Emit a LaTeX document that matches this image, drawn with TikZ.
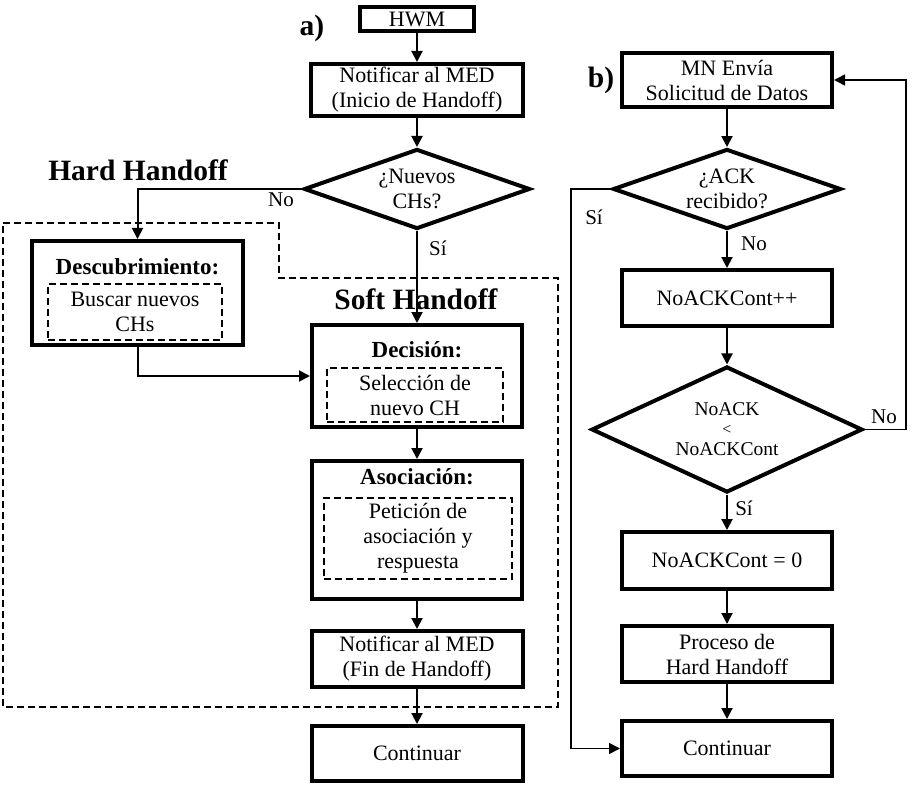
\documentclass[tikz,border=0pt]{standalone}
\usepackage{fontspec}
\setmainfont{Liberation Serif}
\usetikzlibrary{shapes.geometric,arrows.meta}
\begin{document}
\begin{tikzpicture}[x=1pt,y=-1pt,
  box/.style={draw,line width=4pt,inner sep=0pt,align=center,line join=miter,
    font=\fontsize{22}{25}\selectfont},
  dbox/.style={draw,line width=2pt,dash pattern=on 7pt off 4pt,inner sep=0pt,align=center,
    font=\fontsize{22}{25}\selectfont},
  dia/.style={draw,diamond,line width=4pt,inner sep=0pt,line join=miter,miter limit=20},
  txt/.style={inner sep=0pt,align=center,font=\fontsize{22}{25}\selectfont},
  smalltxt/.style={inner sep=0pt,align=center,font=\fontsize{19.5}{22}\selectfont},
  lbl/.style={inner sep=0pt,font=\fontsize{21}{24}\selectfont},
  ttl/.style={inner sep=0pt,font=\fontsize{23}{26}\selectfont\bfseries},
  bigttl/.style={inner sep=0pt,font=\fontsize{29.5}{33}\selectfont\bfseries},
  arr/.style={line width=2pt,-{Triangle[length=11pt,width=11pt]}},
  thinarr/.style={line width=1.5pt,-{Triangle[length=11pt,width=11pt]}},
  region/.style={line width=2pt,dash pattern=on 7pt off 4pt}
]
\fill[white] (0,0) rectangle (912,786);
\useasboundingbox (0,0) rectangle (912,786);

% ---------- a) ----------
\node[bigttl] (la) at (312,28) {a)};
\node[bigttl] (hh) at (138,170) {Hard Handoff};
\node[bigttl] (sh) at (416,299) {Soft Handoff};

\draw[region] (3,223) -- (279,223) -- (279,278) -- (558,278) -- (558,707) -- (3,707) -- cycle;

\node[box,minimum width=114,minimum height=24] (hwm) at (417,19) {HWM};
\node[box,minimum width=212,minimum height=52] (n1) at (417,90) {Notificar al MED\\(Inicio de Handoff)};
\node[dia,minimum width=226,minimum height=80] (d1) at (417,189) {};
\node[txt] (d1t) at (417,189) {¿Nuevos\\CHs?};

\node[box,minimum width=211,minimum height=104] (desc) at (137.5,293) {};
\node[ttl] (desct) at (137.5,267) {Descubrimiento:};
\node[dbox,minimum width=174,minimum height=56] (desci) at (135,312) {Buscar nuevos\\CHs};

\node[box,minimum width=210,minimum height=102] (dec) at (417,376) {};
\node[ttl] (dect) at (417,350) {Decisión:};
\node[dbox,minimum width=176,minimum height=54] (deci) at (415,395) {Selección de\\nuevo CH};

\node[box,minimum width=210,minimum height=138] (aso) at (417,530) {};
\node[ttl] (asot) at (417,477) {Asociación:};
\node[dbox,minimum width=188,minimum height=81] (asoi) at (418,538.5) {Petición de\\asociación y\\respuesta};

\node[box,minimum width=211,minimum height=56] (nfin) at (417,659) {Notificar al MED\\(Fin de Handoff)};
\node[box,minimum width=211,minimum height=55] (contl) at (417,753.5) {Continuar};

\draw[arr] (hwm) -- (n1);
\draw[arr] (n1) -- (d1);
\draw[arr] (d1.west) -| (desc.north);
\draw[arr] (d1.south) -- (dec.north);
\draw[arr] (desc.south) |- (dec.west);
\draw[arr] (dec) -- (aso);
\draw[arr] (aso) -- (nfin);
\draw[arr] (nfin) -- (contl);

\node[lbl] (lno1) at (281,200) {No};
\node[lbl] (lsi1) at (438,248) {Sí};

% ---------- b) ----------
\node[bigttl] (lb) at (601,80) {b)};

\node[box,minimum width=210,minimum height=54] (mn) at (727,80) {MN Envía\\Solicitud de Datos};
\node[dia,minimum width=228,minimum height=80] (da) at (727,189) {};
\node[txt] (dat) at (727,189) {¿ACK\\recibido?};
\node[box,minimum width=210,minimum height=56] (nak) at (727,298) {NoACKCont++};
\node[dia,minimum width=271,minimum height=126] (db) at (727,429.5) {};
\node[smalltxt] (dbt) at (727,429) {NoACK\\[-3pt]{\fontsize{16}{18}\selectfont <}\\[-1pt]NoACKCont};
\node[box,minimum width=210,minimum height=57] (nz) at (727,560.5) {NoACKCont = 0};
\node[box,minimum width=210,minimum height=56] (proc) at (727,654) {Proceso de\\Hard Handoff};
\node[box,minimum width=210,minimum height=55] (contr) at (727,748.5) {Continuar};

\coordinate (sx) at (571,189);
\coordinate (fx) at (906,429.5);

\draw[arr] (mn) -- (da);
\draw[arr] (da) -- (nak);
\draw[thinarr] (da.west) -- (sx) |- (contr.west);
\draw[arr] (nak) -- (db);
\draw[arr] (db) -- (nz);
\draw[thinarr] (db.east) -- (fx) |- (mn.east);
\draw[arr] (nz) -- (proc);
\draw[arr] (proc) -- (contr);

\node[lbl] (lsi2) at (594,217) {Sí};
\node[lbl] (lno2) at (754,244) {No};
\node[lbl] (lno3) at (884,417) {No};
\node[lbl] (lsi3) at (744,508) {Sí};
\end{tikzpicture}
\end{document}
